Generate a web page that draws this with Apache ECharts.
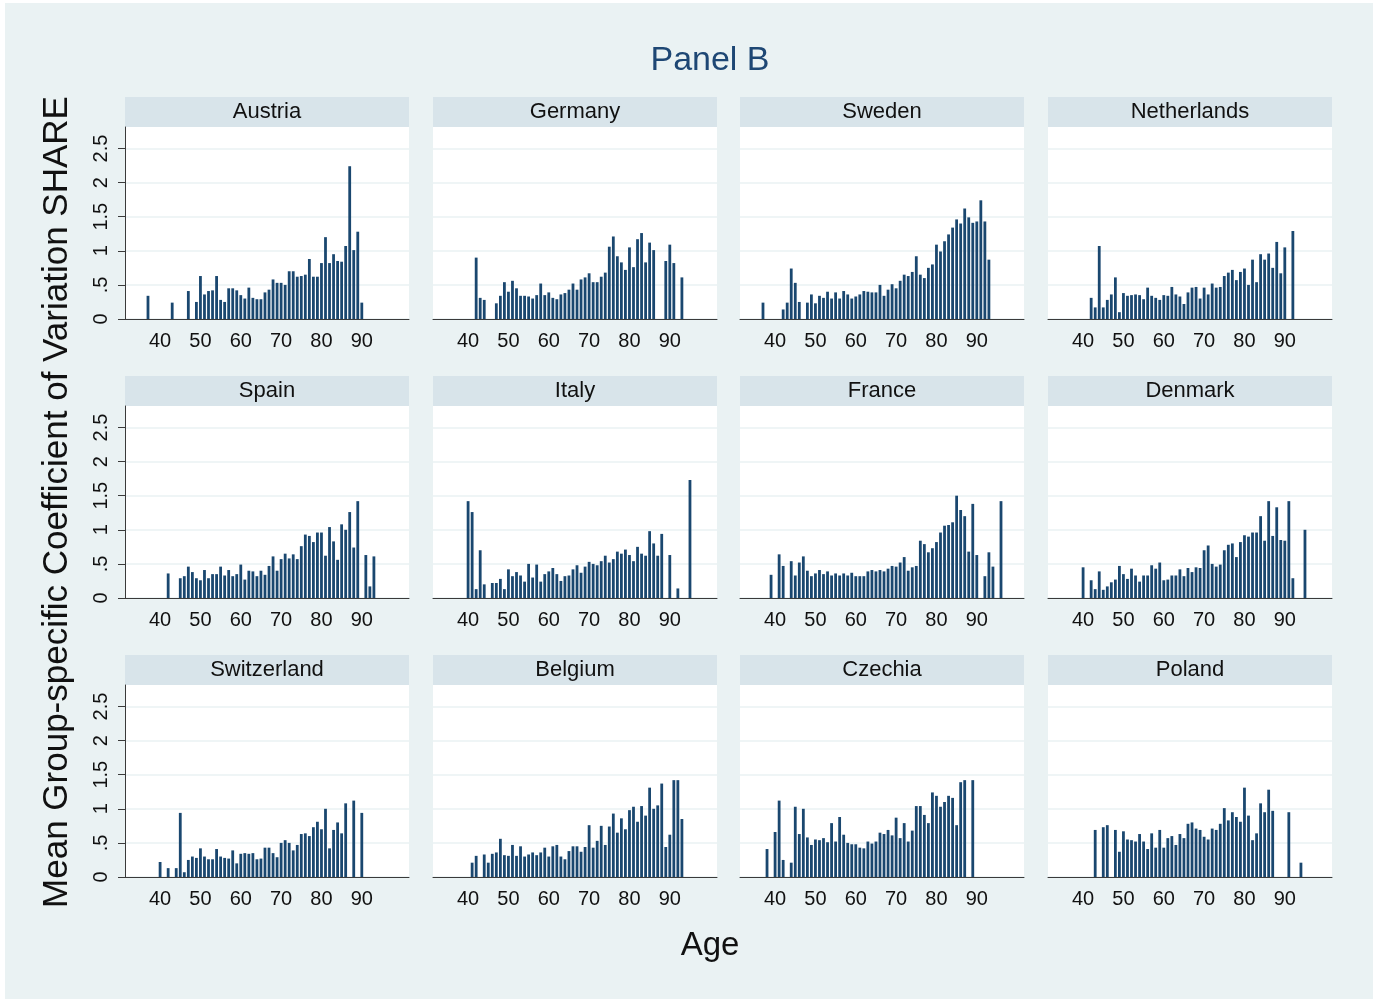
<!DOCTYPE html>
<html>
<head>
<meta charset="utf-8">
<title>Panel B</title>
<script src="https://cdn.jsdelivr.net/npm/echarts@6/dist/echarts.min.js"></script>
<style>
  html, body { margin: 0; padding: 0; background: #ffffff; }
  #frame { position: absolute; left: 5px; top: 3px; width: 1368px; height: 996px; background: #eaf2f3; }
  #chart { position: absolute; left: 0; top: 0; width: 1378px; height: 1002px; }
</style>
</head>
<body>
<div id="frame"></div>
<div id="chart"></div>
<script>
// Mean group-specific coefficient of variation by age, one [age, value] pair per bar
const austria = [[37,.34],[43,.24],[47,.41],[49,.25],[50,.63],[51,.36],[52,.41],[53,.42],[54,.63],[55,.28],[56,.25],[57,.45],[58,.45],[59,.42],[60,.35],[61,.30],[62,.46],[63,.31],[64,.29],[65,.29],[66,.39],[67,.43],[68,.58],[69,.53],[70,.53],[71,.50],[72,.70],[73,.70],[74,.62],[75,.63],[76,.65],[77,.88],[78,.62],[79,.62],[80,.82],[81,1.20],[82,.82],[83,.95],[84,.85],[85,.84],[86,1.07],[87,2.24],[88,1.01],[89,1.28],[90,.24]];
const germany = [[42,.90],[43,.31],[44,.28],[47,.23],[48,.34],[49,.54],[50,.40],[51,.56],[52,.45],[53,.34],[54,.34],[55,.33],[56,.30],[57,.35],[58,.52],[59,.35],[60,.39],[61,.31],[62,.29],[63,.36],[64,.38],[65,.43],[66,.52],[67,.43],[68,.58],[69,.61],[70,.67],[71,.54],[72,.54],[73,.62],[74,.68],[75,1.06],[76,1.21],[77,.92],[78,.83],[79,.72],[80,1.05],[81,.76],[82,1.17],[83,1.26],[84,.83],[85,1.12],[86,1.01],[89,.85],[90,1.09],[91,.82],[93,.61]];
const sweden = [[37,.24],[42,.14],[43,.24],[44,.74],[45,.53],[46,.25],[48,.24],[49,.36],[50,.23],[51,.34],[52,.31],[53,.40],[54,.30],[55,.39],[56,.30],[57,.41],[58,.36],[59,.30],[60,.33],[61,.36],[62,.41],[63,.40],[64,.39],[65,.39],[66,.50],[67,.34],[68,.43],[69,.51],[70,.45],[71,.56],[72,.65],[73,.63],[74,.69],[75,.92],[76,.65],[77,.60],[78,.75],[79,.80],[80,1.09],[81,.99],[82,1.14],[83,1.24],[84,1.34],[85,1.46],[86,1.40],[87,1.62],[88,1.49],[89,1.41],[90,1.43],[91,1.74],[92,1.43],[93,.87]];
const netherlands = [[42,.31],[43,.17],[44,1.07],[45,.17],[46,.28],[47,.36],[48,.61],[49,.10],[50,.38],[51,.34],[52,.35],[53,.36],[54,.35],[55,.29],[56,.46],[57,.34],[58,.31],[59,.28],[60,.35],[61,.34],[62,.47],[63,.36],[64,.33],[65,.22],[66,.39],[67,.46],[68,.47],[69,.30],[70,.46],[71,.36],[72,.52],[73,.46],[74,.47],[75,.63],[76,.68],[77,.72],[78,.57],[79,.69],[80,.74],[81,.50],[82,.87],[83,.54],[84,.95],[85,.87],[86,.96],[87,.75],[88,1.13],[89,.67],[90,1.05],[92,1.29]];
const spain = [[42,.36],[45,.29],[46,.32],[47,.46],[48,.38],[49,.29],[50,.26],[51,.41],[52,.29],[53,.35],[54,.35],[55,.46],[56,.33],[57,.41],[58,.32],[59,.35],[60,.49],[61,.27],[62,.40],[63,.39],[64,.32],[65,.40],[66,.34],[67,.47],[68,.61],[69,.40],[70,.57],[71,.65],[72,.58],[73,.64],[74,.57],[75,.76],[76,.93],[77,.91],[78,.82],[79,.96],[80,.96],[81,.62],[82,1.04],[83,.83],[84,.56],[85,1.08],[86,1.00],[87,1.26],[88,.74],[89,1.42],[91,.63],[92,.17],[93,.61]];
const italy = [[40,1.42],[41,1.26],[42,.13],[43,.70],[44,.20],[46,.22],[47,.22],[48,.28],[49,.13],[50,.42],[51,.32],[52,.38],[53,.33],[54,.24],[55,.50],[56,.30],[57,.49],[58,.24],[59,.35],[60,.39],[61,.44],[62,.35],[63,.25],[64,.32],[65,.33],[66,.42],[67,.48],[68,.37],[69,.46],[70,.53],[71,.50],[72,.48],[73,.54],[74,.62],[75,.52],[76,.57],[77,.68],[78,.65],[79,.71],[80,.63],[81,.54],[82,.75],[83,.65],[84,.62],[85,.98],[86,.80],[87,.62],[88,.94],[90,.63],[92,.14],[95,1.73]];
const france = [[39,.34],[41,.64],[42,.47],[44,.54],[45,.33],[46,.52],[47,.61],[48,.40],[49,.32],[50,.36],[51,.41],[52,.35],[53,.39],[54,.33],[55,.36],[56,.33],[57,.36],[58,.33],[59,.37],[60,.32],[61,.32],[62,.32],[63,.39],[64,.41],[65,.39],[66,.41],[67,.39],[68,.43],[69,.47],[70,.46],[71,.52],[72,.60],[73,.40],[74,.45],[75,.47],[76,.84],[77,.79],[78,.67],[79,.73],[80,.82],[81,.96],[82,1.06],[83,1.07],[84,1.11],[85,1.50],[86,1.29],[87,1.20],[88,.68],[89,1.38],[90,.63],[92,.32],[93,.67],[94,.46],[96,1.42]];
const denmark = [[40,.45],[42,.26],[43,.13],[44,.39],[45,.12],[46,.17],[47,.23],[48,.27],[49,.47],[50,.35],[51,.28],[52,.43],[53,.33],[54,.24],[55,.33],[56,.33],[57,.48],[58,.43],[59,.52],[60,.26],[61,.27],[62,.33],[63,.33],[64,.42],[65,.32],[66,.44],[67,.38],[68,.45],[69,.44],[70,.70],[71,.77],[72,.50],[73,.46],[74,.49],[75,.70],[76,.78],[77,.80],[78,.60],[79,.82],[80,.92],[81,.90],[82,.96],[83,.96],[84,1.20],[85,.84],[86,1.42],[87,.91],[88,1.33],[89,.85],[90,.84],[91,1.42],[92,.29],[95,1.00]];
const switzerland = [[40,.22],[42,.13],[44,.13],[45,.94],[46,.07],[47,.25],[48,.30],[49,.28],[50,.42],[51,.30],[52,.26],[53,.26],[54,.41],[55,.30],[56,.28],[57,.27],[58,.39],[59,.20],[60,.34],[61,.35],[62,.34],[63,.35],[64,.26],[65,.27],[66,.43],[67,.43],[68,.35],[69,.29],[70,.50],[71,.54],[72,.50],[73,.39],[74,.47],[75,.63],[76,.64],[77,.60],[78,.73],[79,.81],[80,.70],[81,1.00],[82,.42],[83,.69],[84,.80],[85,.64],[86,1.08],[88,1.12],[90,.94]];
const belgium = [[41,.21],[42,.31],[44,.33],[45,.21],[46,.34],[47,.36],[48,.56],[49,.32],[50,.31],[51,.47],[52,.31],[53,.45],[54,.30],[55,.33],[56,.36],[57,.32],[58,.36],[59,.43],[60,.30],[61,.45],[62,.47],[63,.30],[64,.26],[65,.38],[66,.45],[67,.45],[68,.37],[69,.44],[70,.76],[71,.43],[72,.53],[73,.75],[74,.47],[75,.74],[76,.93],[77,.65],[78,.86],[79,.70],[80,.98],[81,1.03],[82,.81],[83,1.04],[84,.90],[85,1.31],[86,1.00],[87,1.05],[88,1.37],[89,.44],[90,.62],[91,1.42],[92,1.42],[93,.85]];
const czechia = [[38,.41],[40,.66],[41,1.12],[42,.25],[44,.21],[45,1.03],[46,.63],[47,1.00],[48,.58],[49,.47],[50,.55],[51,.54],[52,.57],[53,.51],[54,.79],[55,.52],[56,.88],[57,.62],[58,.50],[59,.48],[60,.48],[61,.43],[62,.42],[63,.52],[64,.49],[65,.52],[66,.65],[67,.63],[68,.69],[69,.61],[70,.87],[71,.57],[72,.79],[73,.52],[74,.68],[75,1.04],[76,1.04],[77,.91],[78,.79],[79,1.24],[80,1.19],[81,1.03],[82,1.10],[83,1.19],[84,1.16],[85,.76],[86,1.39],[87,1.42],[89,1.42]];
const poland = [[43,.69],[45,.73],[46,.76],[48,.69],[49,.37],[50,.67],[51,.55],[52,.54],[53,.52],[54,.63],[55,.52],[56,.41],[57,.64],[58,.43],[59,.69],[60,.43],[61,.57],[62,.60],[63,.47],[64,.63],[65,.57],[66,.78],[67,.80],[68,.71],[69,.69],[70,.59],[71,.55],[72,.71],[73,.69],[74,.78],[75,1.01],[76,.83],[77,.95],[78,.88],[79,.81],[80,1.31],[81,.90],[82,.54],[83,.64],[84,1.08],[85,.95],[86,1.28],[87,.97],[91,.95],[94,.21]];

const countryNames = ['Austria','Germany','Sweden','Netherlands','Spain','Italy','France','Denmark','Switzerland','Belgium','Czechia','Poland'];
const countryData = [austria, germany, sweden, netherlands, spain, italy, france, denmark, switzerland, belgium, czechia, poland];

const xTicks = [40, 50, 60, 70, 80, 90];
const yTicks = [0, 0.5, 1, 1.5, 2, 2.5];

// panel layout (pixels)
const colLeft = [125, 433, 740, 1048];
const rowTop = [127, 406, 685];
const plotW = 284, plotH = 192, stripH = 30;

const FONT = "'Liberation Sans', Arial, Helvetica, sans-serif";
const NAVY = '#1a476f';

const grids = [], xAxes = [], yAxes = [], series = [], graphics = [];

countryData.forEach((data, i) => {
  const r = Math.floor(i / 4), c = i % 4;
  const left = colLeft[c], top = rowTop[r];
  grids.push({
    left: left, top: top, width: plotW, height: plotH,
    show: true, backgroundColor: '#ffffff', borderWidth: 0
  });
  xAxes.push({
    type: 'value', gridIndex: i, min: 31.3, max: 101.7,
    axisLine: { show: true, onZero: false, lineStyle: { color: '#3a3a3a', width: 1 } },
    axisTick: { show: false, customValues: xTicks },
    axisLabel: { customValues: xTicks, fontSize: 20, color: '#111', margin: 12, fontFamily: FONT },
    splitLine: { show: false }
  });
  const first = c === 0;
  yAxes.push({
    type: 'value', gridIndex: i, min: 0, max: 2.815,
    axisLine: { show: first, lineStyle: { color: '#3a3a3a', width: 1 } },
    axisTick: { show: first, customValues: yTicks, length: 7, lineStyle: { color: '#3a3a3a' } },
    axisLabel: {
      show: first, customValues: yTicks, rotate: 90, fontSize: 20, color: '#111',
      margin: 14, fontFamily: FONT,
      formatter: v => (v === 0.5 ? '.5' : String(v))
    },
    splitLine: { show: true, lineStyle: { color: '#eaf2f3', width: 1.5 } }
  });
  series.push({
    type: 'bar', xAxisIndex: i, yAxisIndex: i, data: data,
    barWidth: 2.8, itemStyle: { color: NAVY }, silent: true, animation: false
  });
  // panel header strip
  graphics.push({
    type: 'rect', shape: { x: left, y: top - stripH, width: plotW, height: stripH },
    style: { fill: '#d8e4ea' }, silent: true
  });
  graphics.push({
    type: 'text', x: left + plotW / 2, y: top - stripH / 2,
    style: { text: countryNames[i], fontSize: 22, fill: '#111', fontFamily: FONT,
             align: 'center', verticalAlign: 'middle' }, silent: true
  });
});

graphics.push({
  type: 'text', x: 710, y: 61,
  style: { text: 'Panel B', fontSize: 34, fill: '#1e4774', fontFamily: FONT,
           align: 'center', verticalAlign: 'middle' }
});
graphics.push({
  type: 'text', x: 710, y: 946,
  style: { text: 'Age', fontSize: 33, fill: '#111', fontFamily: FONT,
           align: 'center', verticalAlign: 'middle' }
});
graphics.push({
  type: 'text', x: 57, y: 502, rotation: Math.PI / 2,
  style: { text: 'Mean Group-specific Coefficient of Variation SHARE', fontSize: 35, fill: '#111',
           fontFamily: FONT, align: 'center', verticalAlign: 'middle' }
});

const chart = echarts.init(document.getElementById('chart'), null, { renderer: 'canvas' });
chart.setOption({
  backgroundColor: 'transparent',
  animation: false,
  grid: grids,
  xAxis: xAxes,
  yAxis: yAxes,
  series: series,
  graphic: { elements: graphics }
});
</script>
</body>
</html>
